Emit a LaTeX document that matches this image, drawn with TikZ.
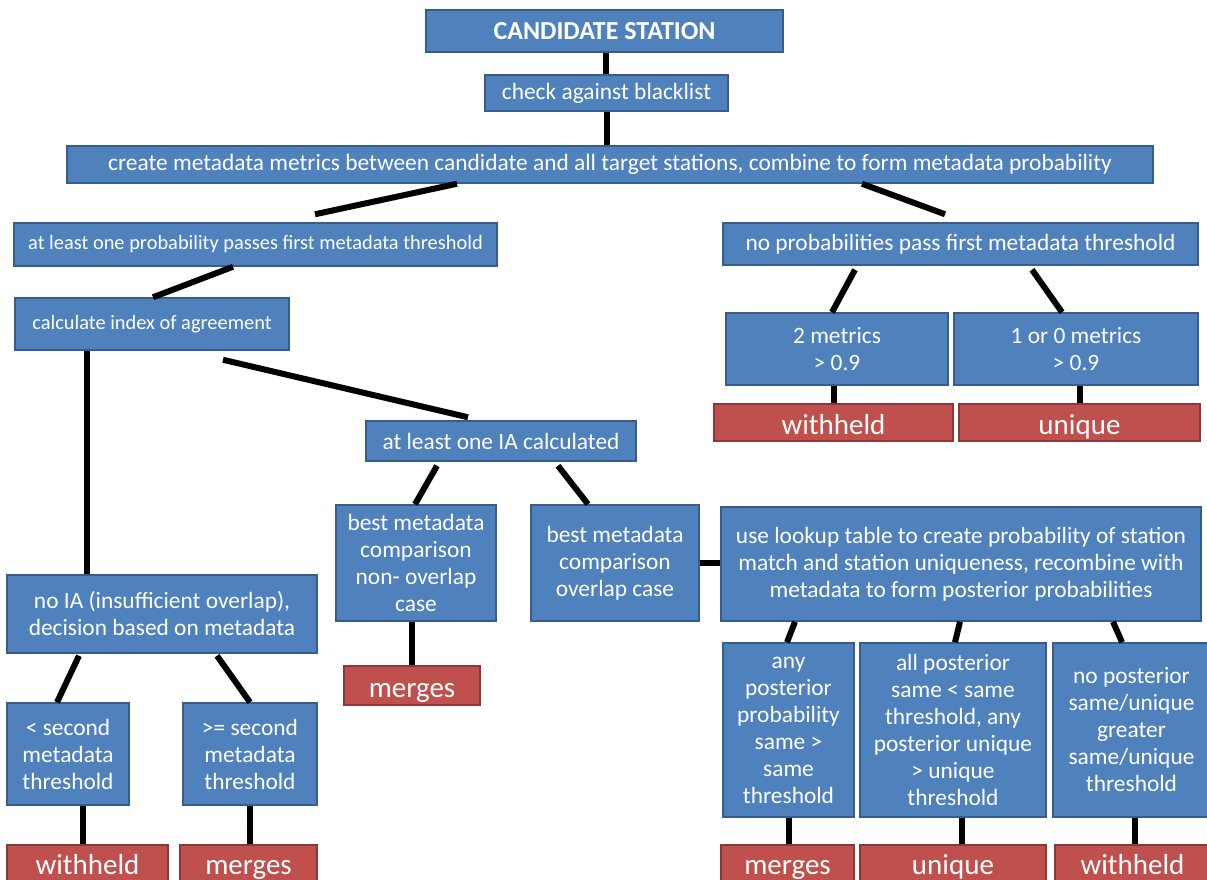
\documentclass[tikz,border=0pt]{standalone}
\usepackage{fontspec}
\setmainfont{Carlito}
\definecolor{bblue}{HTML}{4F81BD}
\definecolor{bbord}{HTML}{385D8A}
\definecolor{rred}{HTML}{C0504D}
\definecolor{rbord}{HTML}{8C3836}
\tikzset{
  bluebox/.style={rectangle, fill=bblue, draw=bbord, line width=1.5pt, text=white,
    inner sep=0pt, align=center, font=\fontsize{23.4}{27}\selectfont},
  smallbox/.style={bluebox, font=\fontsize{20.4}{25}\selectfont},
  redbox/.style={rectangle, fill=rred, draw=rbord, line width=1.5pt, text=white,
    inner sep=0pt, align=center, text height=24pt, text depth=0pt,
    font=\fontsize{29}{32}\selectfont},
  lowred/.style={redbox, text height=24pt, text depth=6pt},
  conn/.style={line width=6pt, black},
  sz/.style 2 args={minimum width=#1pt, minimum height=#2pt}
}
\begin{document}
\begin{tikzpicture}[x=1pt, y=-1pt]
\clip (0,0) rectangle (1207,879);
\fill[white] (0,0) rectangle (1207,879);

% top
\node[bluebox, sz={357}{42}, font=\fontsize{26}{30}\selectfont\bfseries] (cand) at (604.5,31) {CANDIDATE STATION};
\node[bluebox, sz={243}{36}] (black) at (606.5,93) {check against blacklist};
\node[bluebox, sz={1086}{37}] (create) at (610,164.5) {create metadata metrics between candidate and all target stations, combine to form metadata probability};

% left branch
\node[smallbox, sz={483}{43}] (prob1) at (255.5,244.5) {at least one probability passes first metadata threshold};
\node[smallbox, sz={274}{52}] (calc) at (152,324) {calculate index of agreement};

% right branch
\node[bluebox, sz={475}{42}] (noprob) at (960.5,244) {no probabilities pass first metadata threshold};
\node[bluebox, sz={222}{72}] (m2) at (837,349) {2 metrics\\ \textgreater{} 0.9};
\node[bluebox, sz={244}{72}] (m10) at (1076,349) {1 or 0 metrics\\ \textgreater{} 0.9};
\node[redbox, sz={239}{37}] (wh1) at (833.5,422.5) {withheld};
\node[redbox, sz={241}{37}] (un1) at (1079.5,422.5) {unique};

% IA
\node[bluebox, sz={270}{40}] (ia) at (501,441) {at least one IA calculated};
\node[bluebox, sz={160}{116}] (nonov) at (416,563) {best metadata\\ comparison\\ non- overlap\\ case};
\node[redbox, sz={136}{39}] (mer1) at (412,685.5) {merges};
\node[bluebox, sz={168}{116}] (ov) at (615,563) {best metadata\\ comparison\\ overlap case};
\node[bluebox, sz={480}{114}] (lookup) at (961,564) {use lookup table to create probability of station\\ match and station uniqueness, recombine with\\ metadata to form posterior probabilities};

% no IA
\node[bluebox, sz={310}{78}] (noia) at (162,614) {no IA (insufficient overlap),\\ decision based on metadata};
\node[bluebox, sz={122}{102}] (lt) at (68,754) {\textless{} second\\ metadata\\ threshold};
\node[bluebox, sz={134}{102}] (ge) at (250,754) {\textgreater= second\\ metadata\\ threshold};
\node[lowred, sz={161}{40}] (wh2) at (87.5,865) {withheld};
\node[lowred, sz={137}{40}] (mer2) at (248.5,865) {merges};

% posterior
\node[bluebox, sz={131}{174}] (anyp) at (788.5,730) {any\\ posterior\\ probability\\ same \textgreater\\ same\\ threshold};
\node[bluebox, sz={186}{174}] (allp) at (953,730) {all posterior\\ same \textless{} same\\ threshold, any\\ posterior unique\\ \textgreater{} unique\\ threshold};
\node[bluebox, sz={157}{174}] (nop) at (1131.5,730) {no posterior\\ same/unique\\ greater\\ same/unique\\ threshold};
\node[lowred, sz={133}{40}] (mer3) at (787.5,865) {merges};
\node[lowred, sz={186}{40}] (un2) at (953,865) {unique};
\node[lowred, sz={155}{40}] (wh3) at (1132.5,865) {withheld};

% connectors
\draw[conn] ([xshift=1.5pt]cand.south) coordinate (t1) -- (t1 |- black.north);
\draw[conn] (black.south) -- (black.south |- create.north);
\draw[conn] ([xshift=-153pt]create.south) -- ([xshift=59.5pt,yshift=8pt]prob1.north);
\draw[conn] ([xshift=252pt]create.south) -- ([xshift=-15.5pt,yshift=8pt]noprob.north);
\draw[conn] ([xshift=-22.5pt]prob1.south) -- ([xshift=1pt]calc.north);
\draw[conn] ([xshift=-105.5pt,yshift=-4pt]noprob.south) -- ([xshift=-5pt]m2.north);
\draw[conn] ([xshift=71.5pt,yshift=-4pt]noprob.south) -- ([xshift=-14pt]m10.north);
\draw[conn] (wh1.north) -- (wh1.north |- m2.south);
\draw[conn] (un1.north) -- (un1.north |- m10.south);
\draw[conn] ([xshift=73pt]calc.south west) coordinate (t2) -- (t2 |- noia.north);
\draw[conn] ([xshift=71pt,yshift=-9pt]calc.south) -- ([xshift=-33pt,yshift=3pt]ia.north);
\draw[conn] ([xshift=-64pt,yshift=-4pt]ia.south) -- ([xshift=-1pt]nonov.north);
\draw[conn] ([xshift=57pt,yshift=-4pt]ia.south) -- ([xshift=-27pt]ov.north);
\draw[conn] (mer1.north) -- (mer1.north |- nonov.south);
\draw[conn] (ov.east) -- (ov.east -| lookup.west);
\draw[conn] ([xshift=-166pt]lookup.south) -- ([xshift=-1.5pt]anyp.north);
\draw[conn] ([xshift=-1pt]lookup.south) -- ([xshift=2pt]allp.north);
\draw[conn] ([xshift=152pt]lookup.south) -- ([xshift=-9.5pt]nop.north);
\draw[conn] (anyp.south) -- (anyp.south |- mer3.north);
\draw[conn] ([xshift=9pt]allp.south) coordinate (t3) -- (t3 |- un2.north);
\draw[conn] ([xshift=3.5pt]nop.south) coordinate (t4) -- (t4 |- wh3.north);
\draw[conn] ([xshift=-83pt,yshift=-2pt]noia.south) -- ([xshift=-11pt]lt.north);
\draw[conn] ([xshift=55pt,yshift=-2pt]noia.south) -- (ge.north);
\draw[conn] ([xshift=15pt]lt.south) coordinate (t5) -- (t5 |- wh2.north);
\draw[conn] (ge.south) -- (ge.south |- mer2.north);
\end{tikzpicture}
\end{document}
